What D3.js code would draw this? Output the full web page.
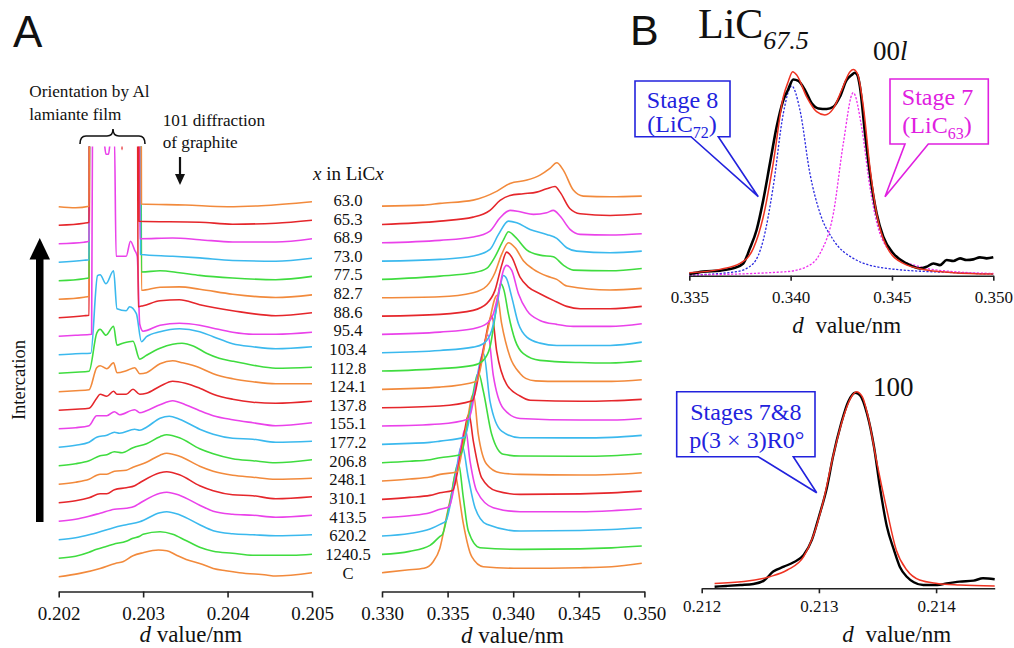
<!DOCTYPE html>
<html><head><meta charset="utf-8">
<script src="https://cdn.jsdelivr.net/npm/d3@7"></script>
<style>
body{margin:0;background:#fff;}
svg{display:block;font-family:"Liberation Serif","Times New Roman",serif;}
</style></head><body>
<svg id="c" width="1014" height="648"></svg>
<script>
// ---------------- DATA ----------------
const sampleLabels = ["C","1240.5","620.2","413.5","310.1","248.1","206.8","177.2","155.1","137.8","124.1","112.8","103.4","95.4","88.6","82.7","77.5","73.0","68.9","65.3","63.0"];
const seriesColors = ["#f28a3c","#3fdc3f","#3bb9ee","#ea42ea","#e5262b"];
const leftTicks = [0.202,0.203,0.204,0.205];
const midTicks = [0.330,0.335,0.340,0.345,0.350];
const b00lTicks = [0.335,0.340,0.345,0.350];
const b100Ticks = [0.212,0.213,0.214];

// 101 region: [d (nm), intensity (a.u.)], stacked bottom (C) -> top (63.0)
const leftSpectra = [
 [[0.2020,0],[0.20225,3.3],[0.20249,8.3],[0.20267,13.3],[0.20276,15],[0.20288,21],[0.2030,24],[0.20318,26.7],[0.20328,26],[0.20339,21.7],[0.20351,17.3],[0.20367,13.3],[0.20383,8.3],[0.20398,6],[0.20414,4],[0.20446,1.7],[0.20457,0.7],[0.2050,4]],
 [[0.2020,0],[0.2022,2],[0.20236,6],[0.20245,9],[0.20257,12],[0.20265,14],[0.2028,17],[0.20288,20],[0.20296,22],[0.2030,24],[0.2032,26.5],[0.20335,24],[0.2035,18],[0.20367,11],[0.20383,7],[0.20406,5],[0.2043,3],[0.20454,3],[0.20477,3],[0.2050,4]],
 [[0.2020,0],[0.2022,2],[0.20236,5],[0.20249,8],[0.20265,12],[0.2028,15],[0.20296,18],[0.2032,27],[0.20328,28],[0.20343,25],[0.20367,15],[0.20383,9],[0.20406,6],[0.2043,5],[0.20457,4],[0.2050,5]],
 [[0.2020,0],[0.2022,2],[0.20236,5],[0.20249,8],[0.20266,12],[0.2028,13],[0.2029,15],[0.20296,18],[0.2032,28],[0.20328,29],[0.20343,26],[0.20367,16],[0.20383,10],[0.20406,7],[0.2043,6],[0.20457,4],[0.2050,6]],
 [[0.2020,0],[0.2022,2],[0.20236,5],[0.20249,9],[0.20257,9],[0.20266,13],[0.2028,15],[0.2029,17],[0.20296,20],[0.2032,30],[0.20328,31],[0.20343,28],[0.20367,17],[0.20383,12],[0.20406,8],[0.2043,7],[0.20457,4],[0.2050,6]],
 [[0.2020,0],[0.2022,2],[0.20236,5],[0.20249,10],[0.20257,10],[0.20266,13],[0.2028,14],[0.20288,17],[0.20304,22],[0.2032,29],[0.20328,31],[0.20343,28],[0.20367,18],[0.20383,13],[0.20406,9],[0.2043,7],[0.20457,5],[0.2050,6]],
 [[0.2020,0],[0.2022,2],[0.20236,5],[0.20249,10],[0.20257,11],[0.20266,14],[0.20275,13],[0.20288,18],[0.20304,22],[0.2032,29],[0.20328,31],[0.20343,28],[0.20367,17],[0.20383,12],[0.20406,7],[0.2043,5],[0.20457,3],[0.2050,6]],
 [[0.2020,0],[0.2022,2],[0.20236,5],[0.20245,10],[0.20257,12],[0.20266,15],[0.20272,14],[0.2029,18],[0.20296,17],[0.20304,20],[0.2032,29],[0.20331,31],[0.20343,28],[0.20367,18],[0.20383,13],[0.20406,9],[0.2043,8],[0.20457,5],[0.2050,6]],
 [[0.2020,0],[0.2022,1],[0.20236,3],[0.20245,13],[0.20257,13],[0.20266,17],[0.20272,14],[0.2029,19],[0.20296,16],[0.20304,18],[0.2032,24],[0.20335,28],[0.2035,24],[0.20367,18],[0.20383,13],[0.20406,9],[0.2043,6],[0.20457,3],[0.2050,6]],
 [[0.2020,0],[0.2022,1],[0.20236,2],[0.20245,12],[0.20249,16],[0.20257,14],[0.20265,19],[0.20269,16],[0.2028,16],[0.20288,21],[0.20296,16],[0.20304,17],[0.2032,24],[0.20335,29],[0.2035,27],[0.20367,22],[0.20383,16],[0.20406,11],[0.2043,8],[0.20457,7],[0.2050,9]],
 [[0.2020,0],[0.2022,1],[0.20236,2],[0.20245,24],[0.20249,26],[0.20257,23],[0.20265,29],[0.20269,19],[0.2028,21],[0.2029,24],[0.20296,18],[0.20304,19],[0.2032,28],[0.20335,31],[0.20346,29],[0.20367,24],[0.20383,18],[0.20406,13],[0.2043,10],[0.20457,8],[0.2050,8]],
 [[0.2020,0],[0.2022,1],[0.20236,2],[0.20245,40],[0.20249,44],[0.20256,38],[0.20265,47],[0.20269,28],[0.20276,30],[0.20288,32],[0.20296,14],[0.20304,18],[0.2032,25],[0.20335,29],[0.20346,30],[0.2036,27],[0.20375,20],[0.2039,15],[0.20406,12],[0.2043,8],[0.20457,5],[0.2050,6]],
 [[0.2020,0],[0.2022,1],[0.20238,1.5],[0.20246,79],[0.20249,80],[0.20256,71],[0.20265,84],[0.20269,46],[0.2028,44],[0.20284,48],[0.20292,41],[0.20298,13],[0.20304,18],[0.2032,23],[0.20343,26],[0.20367,23],[0.20383,18],[0.20406,11],[0.2043,8],[0.20457,6],[0.2050,8]],
 [[0.2020,0],[0.2022,1],[0.20239,2],[0.2024,200],[0.20249,205],[0.20253,200],[0.20256,182],[0.20259,182],[0.20262,200],[0.20266,200],[0.20268,80],[0.2028,80],[0.20285,95],[0.2029,86],[0.20293,80],[0.20296,12],[0.203,5],[0.2032,11],[0.20343,13],[0.20367,11],[0.20383,8],[0.20406,4],[0.2043,2],[0.20457,2],[0.2050,4]],
 [[0.2020,0],[0.2023,2],[0.20236,2.5],[0.20237,400],[0.2027,400],[0.20275,168],[0.2028,400],[0.20293,400],[0.20294,11],[0.203,12],[0.2032,17],[0.20343,18],[0.20367,13],[0.20406,7],[0.20457,2],[0.2050,5]],
 [[0.2020,0],[0.2023,2],[0.20236,3],[0.20237,400],[0.20297,400],[0.20298,9],[0.2032,12],[0.20343,12.3],[0.20367,10],[0.20406,5],[0.20457,1.7],[0.2050,4.3]],
 [[0.2020,0],[0.2023,2],[0.20236,3],[0.20237,400],[0.20297,400],[0.20298,8.7],[0.2032,10],[0.20343,8],[0.20367,5.3],[0.20406,2.7],[0.20457,1],[0.2050,4.3]],
 [[0.2020,0],[0.2023,2],[0.20236,2.5],[0.20237,400],[0.20296,400],[0.20297,7.7],[0.20335,6],[0.20367,4.3],[0.20406,1.7],[0.20457,1],[0.2050,4]],
 [[0.2020,0],[0.2023,1.5],[0.20236,2.5],[0.20237,400],[0.20295,400],[0.20296,5],[0.20335,5.7],[0.20367,4],[0.20406,1.7],[0.20457,1.7],[0.2050,5]],
 [[0.2020,0],[0.2023,2],[0.20236,3],[0.20237,400],[0.20294,400],[0.20295,4],[0.20367,3],[0.20406,1],[0.20457,2],[0.2050,5]],
 [[0.2020,0],[0.2022,-1],[0.20236,0.5],[0.20237,400],[0.20297,400],[0.20298,2.7],[0.2035,1.7],[0.2040,0],[0.2044,1],[0.2050,5]]
];

// 00l region
const midSpectra = [
 [[0.33,0],[0.3319,2.7],[0.3332,4.4],[0.3339,11],[0.3344,24],[0.33495,58],[0.3353,79],[0.3356,98.7],[0.3357,92],[0.3362,49],[0.33684,16],[0.33772,6],[0.3405,4.4],[0.3451,5],[0.3475,6],[0.3498,9.4]],
 [[0.33,0],[0.3321,3],[0.33366,9],[0.33442,18],[0.33461,20],[0.33518,52],[0.33583,91],[0.3362,56.6],[0.33658,23.3],[0.33747,6.6],[0.34052,5],[0.3451,5.5],[0.3475,6.5],[0.3498,8.3]],
 [[0.33,0],[0.3321,2.5],[0.33366,7],[0.33442,11.7],[0.33487,15],[0.33549,52],[0.3361,91],[0.33658,58.3],[0.33709,28.3],[0.33798,11.7],[0.34052,5],[0.3451,5.5],[0.3475,6.5],[0.3498,8.3]],
 [[0.33,0],[0.3321,2],[0.33366,5],[0.33442,8.4],[0.33511,11],[0.33572,47],[0.33636,88.7],[0.33671,56.7],[0.33722,26.7],[0.33848,10],[0.34052,6],[0.3451,6],[0.3475,7],[0.3498,9]],
 [[0.33,0],[0.3321,2],[0.33366,4],[0.33442,6.6],[0.33538,9],[0.33602,47],[0.33663,85],[0.33696,58.3],[0.3376,21.6],[0.33874,8.3],[0.34052,5],[0.3451,5.5],[0.3475,6.5],[0.3498,8.3]],
 [[0.33,0],[0.3321,2],[0.33366,4],[0.33442,6.7],[0.33569,9],[0.33633,47],[0.33697,87],[0.33734,46.7],[0.33798,16.7],[0.33899,8.3],[0.34052,6.7],[0.3451,6],[0.3475,6.5],[0.3498,8.3]],
 [[0.33,0],[0.3321,1.5],[0.33366,3],[0.33442,5],[0.33598,8],[0.33667,49],[0.33736,89.7],[0.33772,71.7],[0.33836,28.4],[0.33925,8.4],[0.34052,6.7],[0.3451,6.5],[0.3475,7],[0.3498,9]],
 [[0.33,0],[0.3321,1],[0.33366,2],[0.33442,3.3],[0.33627,7],[0.33701,51],[0.33774,91],[0.33823,43.3],[0.33912,13.3],[0.34052,6.6],[0.3451,6.5],[0.3475,7],[0.3498,9]],
 [[0.33,0],[0.33442,2],[0.33659,7],[0.33732,51],[0.33808,91],[0.33848,51],[0.33925,17.6],[0.34052,7.6],[0.3451,6],[0.3475,6],[0.3498,7.6]],
 [[0.33,0],[0.33442,1.7],[0.33688,7],[0.33762,51],[0.33838,91.7],[0.33874,56.7],[0.3395,23.4],[0.34052,11.7],[0.3413,7.5],[0.3451,6.5],[0.3475,7],[0.3498,8.4]],
 [[0.33,0],[0.33442,2.3],[0.3372,8],[0.338,56],[0.33877,94],[0.33912,65.7],[0.33976,32.3],[0.34052,16],[0.34095,11],[0.3417,8.5],[0.3436,8],[0.3475,8],[0.3498,9.7]],
 [[0.33,0],[0.33442,2.4],[0.33695,5.7],[0.33772,10.7],[0.33823,24],[0.33861,54],[0.33887,77.4],[0.33905,87.4],[0.3393,80.7],[0.33963,57.4],[0.34015,30.7],[0.34078,17.4],[0.34204,10.7],[0.3451,8.5],[0.34738,8],[0.3498,10]],
 [[0.33,0],[0.33442,2.3],[0.33695,5.6],[0.33772,9],[0.33836,22.3],[0.33874,45.6],[0.339,65.6],[0.33925,77.3],[0.3395,74],[0.33989,55.6],[0.3404,29],[0.34104,15.6],[0.34204,9.6],[0.34332,7.3],[0.34738,7.3],[0.3498,10.6]],
 [[0.33,0],[0.33442,2.3],[0.33695,5.7],[0.33798,10.7],[0.33849,20.7],[0.33887,40.7],[0.33925,64],[0.3395,69],[0.33989,64],[0.3404,40.7],[0.34104,24],[0.34204,14],[0.34332,10],[0.34458,8],[0.34738,8],[0.3498,10.7]],
 [[0.33,0],[0.33442,1.7],[0.33695,5.7],[0.33798,12.4],[0.33861,25.7],[0.33912,50.7],[0.3395,64],[0.33989,59],[0.34052,39],[0.34116,29],[0.34204,22.4],[0.34306,15.7],[0.34408,9.7],[0.3451,7.4],[0.34738,7.4],[0.3498,9.7]],
 [[0.33,0],[0.33442,1],[0.33695,5],[0.33798,11.7],[0.33861,25],[0.33912,43.4],[0.33964,55],[0.34015,50],[0.34079,36.7],[0.34155,28.4],[0.34256,21.7],[0.34332,18.4],[0.34409,11.7],[0.34738,7.7],[0.3498,9.4]],
 [[0.33,0],[0.33442,3.3],[0.33695,6.6],[0.33798,11],[0.33861,22.6],[0.33925,39.3],[0.33964,47.6],[0.34015,42.6],[0.34105,29.3],[0.34204,24.3],[0.34306,22.6],[0.34382,14.3],[0.34458,9.3],[0.34738,8.6],[0.3498,11]],
 [[0.33,0],[0.33442,1.7],[0.33695,5],[0.33823,11.7],[0.33888,26.7],[0.33964,40],[0.34027,38.3],[0.34128,31.7],[0.34255,26.7],[0.34332,22.7],[0.34408,13.3],[0.34484,10],[0.34738,8.3],[0.3498,10]],
 [[0.33,0],[0.33442,2.4],[0.33695,5.7],[0.33823,11.7],[0.339,25],[0.33976,32.4],[0.34052,31],[0.34154,28.4],[0.34255,30],[0.34306,32.4],[0.34357,26.7],[0.34433,13.4],[0.3451,8.4],[0.34738,7.7],[0.3498,9]],
 [[0.33,0],[0.33442,3.3],[0.33695,7.3],[0.33823,14],[0.339,24],[0.33976,29],[0.34077,30.7],[0.34179,32.3],[0.34255,35.7],[0.34319,38],[0.34357,32.3],[0.34433,15.7],[0.3451,10.7],[0.34738,9],[0.3498,10.7]],
 [[0.33,0],[0.33313,1],[0.33442,2.7],[0.33695,6],[0.33877,15],[0.33976,22.7],[0.34105,26],[0.34204,31],[0.3428,37.7],[0.34332,43.3],[0.34382,36],[0.34458,16],[0.34534,10],[0.34738,9.3],[0.3498,10]]
];

// Panel B, 00l of LiC67.5 (normalized intensity)
const b00lObserved = [[0.335,0.008],[0.33569,0.020],[0.33651,0.025],[0.33717,0.036],[0.33766,0.060],[0.33799,0.134],[0.33832,0.224],[0.33865,0.371],[0.33898,0.551],[0.33931,0.730],[0.33964,0.861],[0.33988,0.913],[0.34013,0.962],[0.34038,0.955],[0.34071,0.910],[0.34104,0.845],[0.34137,0.820],[0.34178,0.817],[0.34211,0.828],[0.34243,0.877],[0.34276,0.959],[0.34301,0.984],[0.34317,0.995],[0.34329,0.984],[0.34342,0.926],[0.34367,0.698],[0.34391,0.502],[0.34424,0.306],[0.34457,0.191],[0.34507,0.109],[0.34572,0.060],[0.34638,0.036],[0.34671,0.044],[0.34704,0.060],[0.34737,0.052],[0.3477,0.077],[0.34803,0.072],[0.34836,0.085],[0.34868,0.077],[0.34901,0.080],[0.34934,0.090],[0.34967,0.085],[0.35,0.090]];
const b00lFit = [[0.335,0.015],[0.33651,0.031],[0.3375,0.060],[0.33816,0.134],[0.33865,0.289],[0.33914,0.551],[0.33964,0.877],[0.33988,0.951],[0.3401,1.0],[0.3403,0.984],[0.34079,0.877],[0.34128,0.804],[0.34169,0.788],[0.34211,0.820],[0.34252,0.910],[0.34293,1.0],[0.34309,1.011],[0.34329,0.992],[0.34359,0.828],[0.34391,0.534],[0.34424,0.306],[0.34474,0.142],[0.34556,0.060],[0.34671,0.028],[0.34803,0.015],[0.35,0.008]];
const b00lStage8 = [[0.335,0.003],[0.33734,0.020],[0.33816,0.060],[0.33865,0.175],[0.33914,0.436],[0.33964,0.796],[0.34005,0.930],[0.34046,0.812],[0.34095,0.502],[0.34145,0.306],[0.34211,0.175],[0.34309,0.085],[0.34474,0.036],[0.34803,0.015],[0.35,0.008]];
const b00lStage7 = [[0.335,0.003],[0.3398,0.020],[0.34079,0.044],[0.34145,0.109],[0.34211,0.306],[0.3426,0.649],[0.34309,0.897],[0.3435,0.730],[0.34391,0.436],[0.3444,0.208],[0.34523,0.093],[0.34638,0.044],[0.34803,0.020],[0.35,0.011]];
// Panel B, 100
const b100Observed = [[0.21211,0.008],[0.21221,0.012],[0.21233,0.017],[0.21244,0.022],[0.21253,0.039],[0.21261,0.085],[0.2127,0.110],[0.21278,0.131],[0.21287,0.169],[0.21294,0.246],[0.213,0.364],[0.21307,0.517],[0.21312,0.669],[0.21319,0.839],[0.21325,0.949],[0.21331,0.995],[0.21335,0.983],[0.21341,0.890],[0.21347,0.720],[0.21352,0.517],[0.21358,0.314],[0.21364,0.195],[0.21369,0.110],[0.21375,0.059],[0.21381,0.031],[0.21389,0.017],[0.21401,0.017],[0.21409,0.025],[0.2142,0.034],[0.21432,0.039],[0.2144,0.051],[0.2145,0.046]];
const b100Fit = [[0.21211,0.025],[0.21236,0.034],[0.21258,0.059],[0.21273,0.093],[0.21287,0.161],[0.21295,0.263],[0.21304,0.449],[0.21312,0.669],[0.21321,0.873],[0.21327,0.966],[0.21332,1.0],[0.21337,0.975],[0.21342,0.873],[0.21349,0.653],[0.21358,0.398],[0.21366,0.195],[0.21375,0.093],[0.21386,0.042],[0.21401,0.025],[0.2142,0.017],[0.2145,0.012]];

// ---------------- DRAW ----------------
const serif = '"Liberation Serif","Times New Roman",serif';
const sans = '"Liberation Sans",Arial,sans-serif';
const svg = d3.select("#c");

const xL = d3.scaleLinear([0.202,0.205],[58.7,312]);
const xM = d3.scaleLinear([0.330,0.350],[382,644.4]);
const yL = d3.scaleLinear([0,100],[576.7,476.7]);
const yM = d3.scaleLinear([0,100],[572.7,472.7]);
const stepL = 18.5, stepM = 18.33;
const xB1 = d3.scaleLinear([0.335,0.350],[689.3,993.3]);
const yB1 = d3.scaleLinear([0,1],[275.7,71.7]);
const xB2 = d3.scaleLinear([0.212,0.2145],[701.7,994.7]);
const yB2 = d3.scaleLinear([0,1],[588.3,391.7]);

svg.append("defs").append("clipPath").attr("id","clipL")
  .append("rect").attr("x",0).attr("y",146.5).attr("width",335).attr("height",470);

function axis(scale, ticks, y, size, pad, fs){
  const g = svg.append("g").attr("transform",`translate(0,${y})`)
    .call(d3.axisBottom(scale).tickValues(ticks).tickFormat(d3.format(".3f"))
      .tickSizeInner(size).tickSizeOuter(0).tickPadding(pad));
  g.attr("font-family",serif);
  g.select(".domain").attr("stroke","#222").attr("stroke-width",1.6);
  g.selectAll(".tick line").attr("stroke","#222").attr("stroke-width",1.6);
  g.selectAll(".tick text").attr("font-size",fs).attr("fill","#111");
}
function title(x, y, fs, gap){
  const t = svg.append("text").attr("x",x).attr("y",y).attr("text-anchor","middle")
    .attr("font-size",fs).attr("font-family",serif).attr("fill","#111");
  t.append("tspan").attr("font-style","italic").text("d");
  t.append("tspan").attr("dx",gap).text(" value/nm");
}

// Panel A left
const gL = svg.append("g").attr("clip-path","url(#clipL)");
leftSpectra.forEach((s,i)=>{
  const line = d3.line().x(d=>xL(d[0])).y(d=>yL(d[1]+i*stepL)).curve(d3.curveMonotoneX);
  gL.append("path").attr("d",line(s)).attr("fill","none")
    .attr("stroke",seriesColors[i%5]).attr("stroke-width",1.6).attr("stroke-linejoin","round");
});
axis(xL, leftTicks, 591.5, 6, 9, 19);
title(190.8, 642, 23, 0);

// Panel A middle
const gM = svg.append("g");
midSpectra.forEach((s,i)=>{
  const line = d3.line().x(d=>xM(d[0])).y(d=>yM(d[1]+i*stepM)).curve(d3.curveMonotoneX);
  gM.append("path").attr("d",line(s)).attr("fill","none")
    .attr("stroke",seriesColors[i%5]).attr("stroke-width",1.6).attr("stroke-linejoin","round");
});
axis(xM, midTicks, 591.5, 6, 9, 19);
title(512.5, 643, 23, 0);

// labels
sampleLabels.forEach((lab,i)=>{
  svg.append("text").attr("x",348).attr("y",578.5-18.63*i).attr("text-anchor","middle")
    .attr("font-size",16.6).attr("font-family",serif).attr("fill","#111").text(lab);
});
const hx = svg.append("text").attr("x",313).attr("y",180).attr("font-size",19).attr("font-family",serif).attr("fill","#111");
hx.append("tspan").attr("font-style","italic").text("x");
hx.append("tspan").text(" in LiC");
hx.append("tspan").attr("font-style","italic").text("x");

// Annotations panel A
svg.append("text").attr("x",13).attr("y",46.7).attr("font-size",44).attr("font-family",sans).attr("fill","#111").text("A");
[["Orientation by Al",29.3,96.7],["lamiante film",29.3,119.5],["101 diffraction",162.7,126],["of graphite",162.7,148.3]].forEach(t=>{
  svg.append("text").attr("x",t[1]).attr("y",t[2]).attr("font-size",17.2).attr("font-family",serif).attr("fill","#111").text(t[0]);
});
svg.append("path").attr("d","M80,144 Q80,136 86,136 L107,136 Q113,136 113,129 Q113,136 119,136 L139,136 Q145,136 145,144")
  .attr("fill","none").attr("stroke","#111").attr("stroke-width",1.6);
svg.append("line").attr("x1",180).attr("x2",180).attr("y1",157).attr("y2",176).attr("stroke","#111").attr("stroke-width",2.2);
svg.append("path").attr("d","M175,174 L185,174 L180,185 Z").attr("fill","#111");
// intercalation arrow
svg.append("rect").attr("x",36).attr("y",258).attr("width",7.5).attr("height",264).attr("fill","#000");
svg.append("path").attr("d","M39.75,238 L29.5,259.5 L50,259.5 Z").attr("fill","#000");
svg.append("text").attr("transform","translate(25,380) rotate(-90)").attr("text-anchor","middle")
  .attr("font-size",18.5).attr("font-family",serif).attr("fill","#111").text("Intercation");

// Panel B top
svg.append("text").attr("x",630).attr("y",45).attr("font-size",43).attr("font-family",sans).attr("fill","#111").text("B");
const lic = svg.append("text").attr("x",698).attr("y",38.3).attr("font-size",42).attr("font-family",serif).attr("fill","#111");
lic.append("tspan").text("LiC");
lic.append("tspan").attr("dy",11).attr("font-size",26).attr("font-style","italic").text("67.5");
const t00l = svg.append("text").attr("x",873).attr("y",60).attr("font-size",27).attr("font-family",serif).attr("fill","#111");
t00l.append("tspan").text("00");
t00l.append("tspan").attr("font-style","italic").text("l");
svg.append("text").attr("x",873).attr("y",396).attr("font-size",27).attr("font-family",serif).attr("fill","#111").text("100");

const lB1 = d3.line().x(d=>xB1(d[0])).y(d=>yB1(d[1])).curve(d3.curveMonotoneX);
svg.append("path").attr("d",lB1(b00lStage8)).attr("fill","none").attr("stroke","#2a2ae0").attr("stroke-width",1.3).attr("stroke-dasharray","2.2,1.6");
svg.append("path").attr("d",lB1(b00lStage7)).attr("fill","none").attr("stroke","#ee2cee").attr("stroke-width",1.3).attr("stroke-dasharray","2.2,1.6");
svg.append("path").attr("d",lB1(b00lObserved)).attr("fill","none").attr("stroke","#000").attr("stroke-width",2.6).attr("stroke-linejoin","round");
svg.append("path").attr("d",lB1(b00lFit)).attr("fill","none").attr("stroke","#ee3322").attr("stroke-width",1.5);
axis(xB1, b00lTicks, 275.7, 5, 10.5, 17);
title(846.7, 333.3, 23, 6);

// Panel B bottom
const lB2 = d3.line().x(d=>xB2(d[0])).y(d=>yB2(d[1])).curve(d3.curveMonotoneX);
svg.append("path").attr("d",lB2(b100Observed)).attr("fill","none").attr("stroke","#000").attr("stroke-width",2.4).attr("stroke-linejoin","round");
svg.append("path").attr("d",lB2(b100Fit)).attr("fill","none").attr("stroke","#ee3322").attr("stroke-width",1.5);
axis(xB2, b100Ticks, 588.3, 5, 6.5, 17);
title(896.7, 641.7, 23, 6);

// Callouts
function callout(path, color, lines){
  svg.append("path").attr("d",path).attr("fill","#fff").attr("stroke",color).attr("stroke-width",1.6).attr("stroke-linejoin","miter");
  lines.forEach(l=>{
    const t = svg.append("text").attr("x",l.x).attr("y",l.y).attr("text-anchor","middle")
      .attr("font-size",24).attr("font-family",serif).attr("fill",color);
    l.parts.forEach(p=>{
      const ts = t.append("tspan").text(p[0]);
      if(p[1]==="sub") ts.attr("font-size",16).attr("dy",6);
      if(p[1]==="back") ts.attr("dy",-6);
    });
  });
}
callout("M635,81 H730 V136.7 H718.3 L758.3,196.7 L691,136.7 H635 Z","#2222dd",[
  {x:682.5,y:108.3,parts:[["Stage 8"]]},
  {x:682,y:131.7,parts:[["(LiC"],["72","sub"],[")","back"]]}]);
callout("M890,79 H988.3 V144 H928.3 L885,196.7 L905,144 H890 Z","#e020e0",[
  {x:937.5,y:105,parts:[["Stage 7"]]},
  {x:937,y:133.3,parts:[["(LiC"],["63","sub"],[")","back"]]}]);
callout("M676.7,391.7 H815 V456.7 H793.3 L816.7,492.7 L758.3,456.7 H676.7 Z","#2222dd",[
  {x:745.8,y:420,parts:[["Stages 7&8"]]},
  {x:746.7,y:448.3,parts:[["p(3 × 3)R0°"]]}]);
</script></body></html>
